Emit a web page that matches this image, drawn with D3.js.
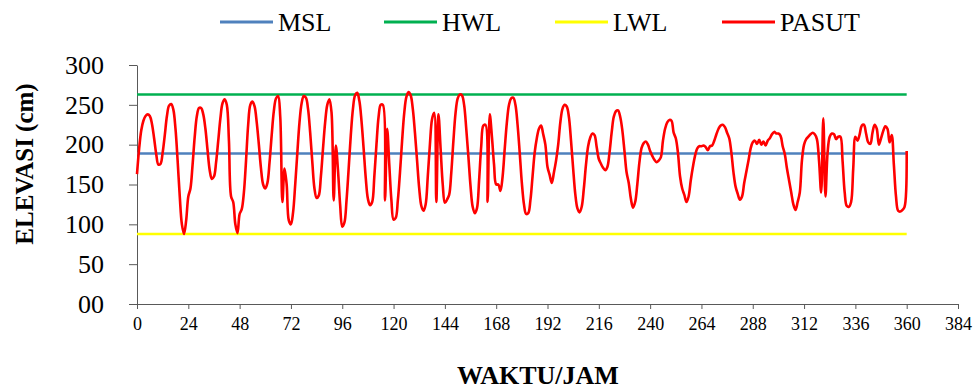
<!DOCTYPE html>
<html>
<head>
<meta charset="utf-8">
<script src="https://cdn.jsdelivr.net/npm/d3@7/dist/d3.min.js"></script>
<style>
  body { margin: 0; background: #fff; }
  svg { display: block; }
  svg text { font-family: "Liberation Serif", "Times New Roman", serif; }
</style>
</head>
<body>
<svg id="chart" width="974" height="389"></svg>
<script>
// hourly tide observation (cm), hour 0..360
const pasut = [
  163, 195, 218, 230, 236, 238, 236, 226, 208, 188,
  175, 176, 190, 212, 236, 249, 251, 244, 220, 180,
  135, 100, 88, 105, 135, 145, 175, 210, 236, 246,
  246, 238, 220, 193, 168, 157, 160, 178, 205, 233,
  252, 257, 250, 205, 135, 128, 100, 89, 113, 119,
  140, 180, 225, 250, 254, 248, 228, 200, 170, 150,
  145, 152, 178, 212, 242, 258, 261, 235, 128, 170,
  150, 105, 100, 115, 150, 190, 228, 252, 261, 259,
  245, 215, 178, 145, 133, 136, 160, 195, 228, 250,
  257, 240, 130, 199, 168, 125, 97, 102, 130, 170,
  212, 245, 262, 265, 255, 230, 195, 158, 132, 124,
  128, 160, 200, 235, 250, 250, 130, 220, 175, 130,
  106, 108, 130, 165, 205, 240, 260, 266, 262, 245,
  215, 180, 145, 123, 117, 125, 160, 200, 232, 240,
  128, 238, 195, 150, 127, 131, 137, 165, 205, 240,
  258, 263, 262, 250, 220, 185, 148, 122, 114, 120,
  155, 198, 224, 225, 128, 238, 210, 175, 150, 150,
  142, 160, 195, 228, 250, 258, 259, 250, 225, 190,
  152, 125, 113, 114, 130, 160, 190, 208, 220, 224,
  213, 200, 172, 162, 152, 165, 180, 200, 228, 245,
  250, 248, 235, 205, 170, 138, 120, 115, 122, 145,
  175, 198, 209, 214, 212, 197, 182, 176, 171, 168,
  172, 190, 215, 235, 242, 243, 235, 218, 192, 165,
  152, 132, 121, 128, 150, 178, 196, 202, 204, 200,
  192, 186, 181, 178, 180, 184, 205, 220, 228, 231,
  230, 215, 208, 190, 160, 145, 137, 128, 135, 155,
  172, 186, 195, 198, 198, 199, 197, 193, 198, 199,
  205, 213, 220, 224, 225, 222, 215, 208, 190, 165,
  147, 138, 131, 135, 152, 166, 180, 195, 203, 205,
  201, 206, 200, 204, 199, 205, 208, 213, 216, 214,
  214, 211, 198, 188, 170, 155, 140, 125, 118, 128,
  140, 180, 200, 207, 210, 213, 215, 213, 207, 180,
  140, 233, 135, 190, 210, 214, 213, 207, 210, 210,
  180, 140, 123, 122, 128, 170, 210, 205, 213, 224,
  225, 214, 203, 201, 215, 225, 220, 200, 208, 217,
  223, 220, 203, 212, 175, 135, 117, 116, 118, 122,
  192
];

// reference water levels (cm)
const levelNames = ['MSL', 'HWL', 'LWL'];
const levelValues = [189, 263, 88];
const levelColors = ['#4F81BD', '#00B050', '#FFFF00'];

const xTicks = d3.range(0, 385, 24);
const yTicks = [0, 50, 100, 150, 200, 250, 300];

const MARGINS = { top: 65, bottom: 85, left: 137, right: 16 };
const SERIF = '"Liberation Serif", "Times New Roman", serif';

const svg = d3.select('#chart');
const width = +svg.attr('width');
const height = +svg.attr('height');

const hours = pasut.map((d, i) => i);

const x = d3.scaleLinear().domain([0, 384]).range([MARGINS.left, width - MARGINS.right]);
const y = d3.scaleLinear().domain([0, 300]).range([height - MARGINS.bottom, MARGINS.top]);

// axes
const axisX = svg.append('g')
  .attr('transform', `translate(0, ${y(0)})`)
  .call(d3.axisBottom(x).tickValues(xTicks).tickSize(5).tickPadding(8).tickSizeOuter(0))
  .attr('font-family', SERIF);
axisX.selectAll('text').attr('font-size', 18).attr('font-family', SERIF).attr('fill', '#000');
axisX.selectAll('line, path').attr('stroke', '#595959');

const axisY = svg.append('g')
  .attr('transform', `translate(${x(0)}, 0)`)
  .call(d3.axisLeft(y).tickValues(yTicks).tickSize(8).tickPadding(25).tickSizeOuter(0)
    .tickFormat(d => d === 0 ? '00' : d))
  .attr('font-family', SERIF);
axisY.selectAll('text').attr('font-size', 26).attr('font-family', SERIF).attr('fill', '#000');
axisY.selectAll('line, path').attr('stroke', '#595959');

// MSL / HWL / LWL over the observation period
const hourExtent = d3.extent(hours);
levelValues.forEach((v, i) => {
  svg.append('line')
    .attr('x1', x(hourExtent[0]))
    .attr('x2', x(hourExtent[1]))
    .attr('y1', y(v))
    .attr('y2', y(v))
    .attr('stroke', levelColors[i])
    .attr('stroke-width', 2.5);
});

const line = d3.line()
  .x((d, i) => x(hours[i]))
  .y(d => y(d))
  .curve(d3.curveCatmullRom.alpha(0.5));

svg.append('path')
  .datum(pasut)
  .attr('fill', 'none')
  .attr('stroke', '#FF0000')
  .attr('stroke-width', 2.6)
  .attr('stroke-linejoin', 'round')
  .attr('d', line);

// legend
const legendNames = levelNames.concat(['PASUT']);
const legendColors = levelColors.concat(['#FF0000']);
const legendX = [220, 384, 555, 722];
const legend = svg.append('g').attr('class', 'legend');
legendNames.forEach((name, i) => {
  const g = legend.append('g').attr('transform', `translate(${legendX[i]}, 22)`);
  g.append('line')
    .attr('x1', 0).attr('x2', 53)
    .attr('stroke', legendColors[i])
    .attr('stroke-width', 3);
  g.append('text')
    .attr('x', 58)
    .attr('dy', '0.35em')
    .attr('font-size', 26)
    .text(name);
});

// axis titles
svg.append('text')
  .attr('x', 538)
  .attr('y', 375)
  .attr('dy', '0.35em')
  .attr('text-anchor', 'middle')
  .attr('font-size', 26)
  .attr('font-weight', 'bold')
  .text('WAKTU/JAM');

svg.append('text')
  .attr('transform', 'translate(24, 164) rotate(-90)')
  .attr('dy', '0.35em')
  .attr('text-anchor', 'middle')
  .attr('font-size', 25)
  .attr('font-weight', 'bold')
  .text('ELEVASI (cm)');
</script>
</body>
</html>
